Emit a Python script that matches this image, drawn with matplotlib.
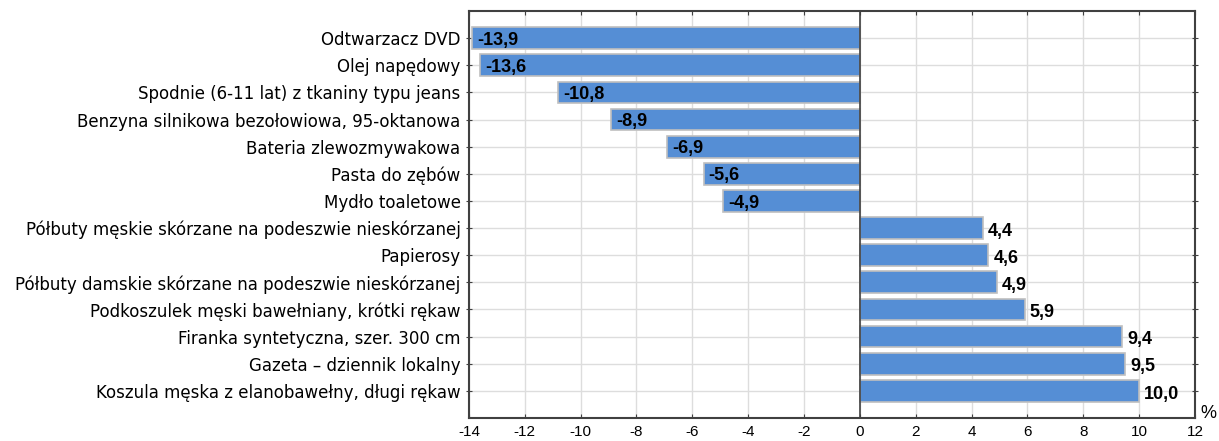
import numpy as np
import matplotlib
matplotlib.use("Agg")
import matplotlib.pyplot as plt
from matplotlib import font_manager as fm

# -----------------------------
# Data
# -----------------------------
categories = [
    "Odtwarzacz DVD",
    "Olej napędowy",
    "Spodnie (6-11 lat) z tkaniny typu jeans",
    "Benzyna silnikowa bezołowiowa, 95-oktanowa",
    "Bateria zlewozmywakowa",
    "Pasta do zębów",
    "Mydło toaletowe",
    "Półbuty męskie skórzane na podeszwie nieskórzanej",
    "Papierosy",
    "Półbuty damskie skórzane na podeszwie nieskórzanej",
    "Podkoszulek męski bawełniany, krótki rękaw",
    "Firanka syntetyczna, szer. 300 cm",
    "Gazeta – dziennik lokalny",
    "Koszula męska z elanobawełny, długi rękaw",
]
values = [-13.9, -13.6, -10.8, -8.9, -6.9, -5.6, -4.9,
          4.4, 4.6, 4.9, 5.9, 9.4, 9.5, 10.0]
xticks = list(range(-14, 13, 2))


# pick the regular-width Liberation Sans files (not the Narrow variant)
def find_font(name):
    for f in fm.findSystemFonts():
        if f.split("/")[-1] == name:
            return f
    return None


reg_file = find_font("LiberationSans-Regular.ttf")
bold_file = find_font("LiberationSans-Bold.ttf")
fp_reg = fm.FontProperties(fname=reg_file) if reg_file else fm.FontProperties(family="DejaVu Sans")
fp_bold = fm.FontProperties(fname=bold_file) if bold_file else fm.FontProperties(family="DejaVu Sans", weight="bold")

# -----------------------------
# Figure
# -----------------------------
fig = plt.figure(figsize=(12.19, 4.41), dpi=100)
ax = fig.add_axes([0.3847, 0.0522, 0.5956, 0.9228])

y = np.arange(len(categories))
ax.barh(y, values, height=0.8, color="#558ED5", edgecolor="#BFBFBF",
        linewidth=1.2, zorder=3)

ax.set_xlim(-14, 12)
ax.set_ylim(len(categories), -1)
ax.set_xticks(xticks)
ax.set_xticklabels([str(t) for t in xticks])
for lab in ax.get_xticklabels():
    lab.set_fontproperties(fp_reg)
    lab.set_fontsize(11)
ax.set_yticks(y)
ax.set_yticklabels(categories, fontsize=12, family="DejaVu Sans")

ax.grid(True, color="#DDDDDD", lw=1.0, zorder=0)
ax.axvline(0, color="#404040", lw=1.2, zorder=4)

for s in ax.spines.values():
    s.set_color("#404040")
    s.set_linewidth(1.5)

ax.tick_params(axis="x", length=3, color="#404040", pad=5, bottom=True, top=True,
               direction="in")
ax.tick_params(axis="y", length=4, color="#404040", pad=4, left=True, right=True,
               direction="inout")

# value labels
for yi, v in zip(y, values):
    txt = f"{v:.1f}".replace(".", ",")
    dy = 0.08 if v < 0 else 0.12
    t = ax.text(v + 0.18, yi + dy, txt, ha="left", va="center", zorder=5)
    t.set_fontproperties(fp_bold)
    t.set_fontsize(13)

pct = fig.text(0.998, 0.063, "%", ha="right", va="center")
pct.set_fontproperties(fp_reg)
pct.set_fontsize(13)

fig.savefig("out.png", dpi=100)
